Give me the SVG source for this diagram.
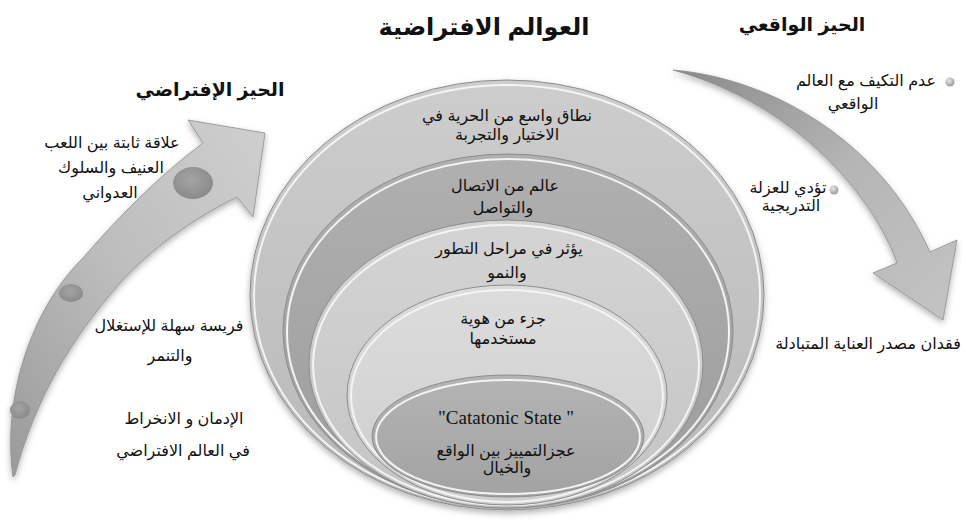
<svg xmlns="http://www.w3.org/2000/svg" width="966" height="524" viewBox="0 0 966 524">
<defs>
<linearGradient id="gArrowL" x1="0" y1="1" x2="1" y2="0">
<stop offset="0" stop-color="#9a9a9a"/><stop offset="0.5" stop-color="#bdbdbd"/><stop offset="1" stop-color="#cfcfcf"/>
</linearGradient>
<linearGradient id="gArrowR" x1="0" y1="0" x2="1" y2="1">
<stop offset="0" stop-color="#8a8a8a"/><stop offset="0.5" stop-color="#b5b5b5"/><stop offset="1" stop-color="#c4c4c4"/>
</linearGradient>
<linearGradient id="g1" x1="0" y1="0" x2="0" y2="1"><stop offset="0" stop-color="#cdcdcd"/><stop offset="1" stop-color="#b8b8b8"/></linearGradient>
<linearGradient id="g2" x1="0" y1="0" x2="0" y2="1"><stop offset="0" stop-color="#b0b0b0"/><stop offset="1" stop-color="#9c9c9c"/></linearGradient>
<linearGradient id="g3" x1="0" y1="0" x2="0" y2="1"><stop offset="0" stop-color="#d4d4d4"/><stop offset="1" stop-color="#c4c4c4"/></linearGradient>
<linearGradient id="g4" x1="0" y1="0" x2="0" y2="1"><stop offset="0" stop-color="#dcdcdc"/><stop offset="1" stop-color="#cecece"/></linearGradient>
<linearGradient id="g5" x1="0" y1="0" x2="0" y2="1"><stop offset="0" stop-color="#b4b4b4"/><stop offset="1" stop-color="#a2a2a2"/></linearGradient>
<radialGradient id="gDot" cx="0.45" cy="0.4" r="0.6"><stop offset="0" stop-color="#a4a4a4"/><stop offset="1" stop-color="#8a8a8a"/></radialGradient>
<radialGradient id="gBul" cx="0.4" cy="0.35" r="0.6"><stop offset="0" stop-color="#e8e8e8"/><stop offset="1" stop-color="#a0a0a0"/></radialGradient>
<filter id="sh" x="-10%" y="-10%" width="120%" height="125%"><feDropShadow dx="0" dy="3" stdDeviation="3" flood-color="#000" flood-opacity="0.3"/></filter>
</defs>
<style>
.t{font-family:"Liberation Sans","DejaVu Sans",Arial,sans-serif;fill:#111;text-anchor:middle;font-size:16px}
.h{font-weight:bold;font-size:19px}
.s{font-family:"Liberation Serif","DejaVu Serif",serif;font-size:19px}
.ring{stroke:#8c8c8c;stroke-width:1}
.rim{fill:none;stroke:#f4f4f4;stroke-width:2}
</style>

<g id="connectors">
<g id="arrow-left" filter="url(#sh)">
<path d="M13,477 C2,400 30,310 83,258 C120,215 160,175 203,143 L188,120 L265,133 L253,217 L237,197 C190,220 150,250 120,283 C70,340 35,400 15,475 Z" fill="url(#gArrowL)" stroke="#8e8e8e" stroke-width="0.8"/>
<ellipse cx="193" cy="183" rx="20" ry="16" fill="url(#gDot)"/>
<ellipse cx="71" cy="293" rx="12" ry="9" fill="url(#gDot)"/>
<ellipse cx="20" cy="410" rx="10" ry="9" fill="url(#gDot)"/>
</g>
<g id="arrow-right" filter="url(#sh)">
<path d="M673,70 C770,78 880,140 930,252 L957,240 L943,320 L873,273 L897,263 C875,200 800,105 673,70 Z" fill="url(#gArrowR)" stroke="#8e8e8e" stroke-width="0.8"/>
</g>
</g>

<g id="rings">
<g id="ring1"><ellipse cx="507" cy="295" rx="257" ry="215" fill="url(#g1)" class="ring" filter="url(#sh)"/><ellipse cx="507" cy="296" rx="253" ry="211" class="rim"/></g>
<g id="ring2"><ellipse cx="508" cy="331" rx="225" ry="177" fill="url(#g2)" class="ring"/><ellipse cx="508" cy="332" rx="221" ry="173" class="rim"/></g>
<g id="ring3"><ellipse cx="506" cy="364" rx="197" ry="144" fill="url(#g3)" class="ring"/><ellipse cx="506" cy="365" rx="193" ry="140" class="rim"/></g>
<g id="ring4"><ellipse cx="507" cy="395" rx="160" ry="110" fill="url(#g4)" class="ring"/><ellipse cx="507" cy="396" rx="156" ry="106" class="rim"/></g>
<g id="ring5"><ellipse cx="508" cy="436" rx="136" ry="61" fill="url(#g5)" class="ring"/><ellipse cx="508" cy="437" rx="132" ry="57" class="rim"/></g>
</g>

<g id="titles">
<text class="t h" x="484" y="35" style="font-size:24px">العوالم الافتراضية</text>
<text class="t h" x="802" y="31">الحيز الواقعي</text>
<text class="t h" x="210" y="96">الحيز الإفتراضي</text>
</g>

<g id="ring-labels">
<text class="t" x="507" y="121">نطاق واسع من الحرية في</text>
<text class="t" x="507" y="140">الاختيار والتجربة</text>
<text class="t" x="505" y="191">عالم من الاتصال</text>
<text class="t" x="503" y="213">والتواصل</text>
<text class="t" x="509" y="254">يؤثر في  مراحل التطور</text>
<text class="t" x="507" y="278">والنمو</text>
<text class="t" x="503" y="324">جزء من هوية</text>
<text class="t" x="503" y="344">مستخدمها</text>
<text class="t s" x="506" y="424">"Catatonic State "</text>
<text class="t" x="506" y="456">عجزالتمييز بين الواقع</text>
<text class="t" x="507" y="473">والخيال</text>
</g>

<g id="left-labels">
<text class="t" x="112" y="148">علاقة ثابتة بين اللعب</text>
<text class="t" x="111" y="173">العنيف والسلوك</text>
<text class="t" x="110" y="198">العدواني</text>
<text class="t" x="169" y="331">فريسة سهلة للإستغلال</text>
<text class="t" x="170" y="361">والتنمر</text>
<text class="t" x="184" y="424">الإدمان و الانخراط</text>
<text class="t" x="183" y="456">في العالم الافتراضي</text>
</g>

<g id="right-labels">
<circle cx="950" cy="82" r="4.5" fill="url(#gBul)"/>
<text class="t" x="866" y="86">عدم التكيف مع العالم</text>
<text class="t" x="853" y="109">الواقعي</text>
<circle cx="834" cy="190" r="4.5" fill="url(#gBul)"/>
<text class="t" x="788" y="193">تؤدي للعزلة</text>
<text class="t" x="791" y="211">التدريجية</text>
<text class="t" x="868" y="349">فقدان مصدر العناية المتبادلة</text>
</g>
</svg>
